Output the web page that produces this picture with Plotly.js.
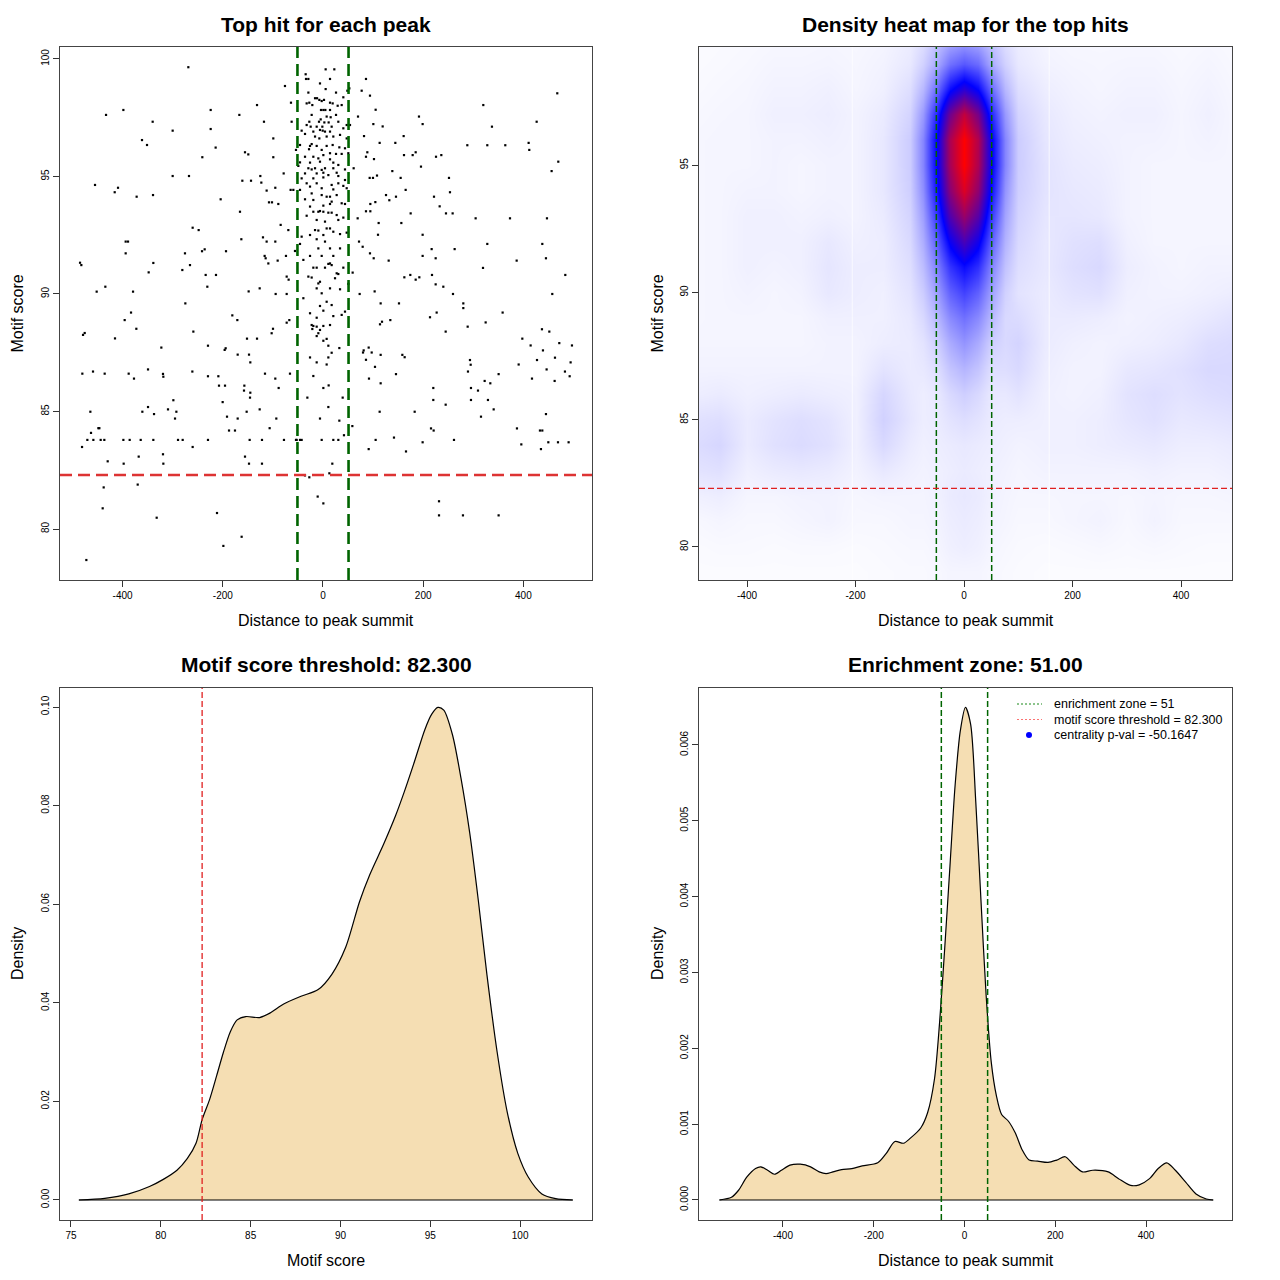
<!DOCTYPE html>
<html>
<head>
<meta charset="utf-8">
<script src="https://cdn.plot.ly/plotly-3.0.1.min.js"></script>
<style>html,body{margin:0;padding:0;background:#fff}#chart{width:1280px;height:1280px}</style>
</head>
<body>
<div id="chart"></div>
<script>
// ---------------- DATA ----------------
const enrichmentZone = 51;
const scoreThreshold = 82.3;
const centralityP = -50.1647;

// Top hit for each peak: [distance to summit, motif score]
const topHits = [
[-268.8,99.65],[-398.5,97.83],[-433.1,97.62],[-224.2,97.83],[-167.0,97.62],[-131.7,98.04],[-340.0,97.33],[-117.8,97.33],[-300.1,96.95],[-224.2,97.02],[-75.9,98.85],[-63.9,98.14],[-361.3,96.55],[-351.3,96.34],[-214.3,96.23],[-99.2,96.62],[-155.7,96.03],[-149.1,95.94],[-240.9,95.82],[-99.2,95.82],[-62.6,97.33],[-300.1,95.02],[-267.5,95.02],[-455.1,94.64],[-409.2,94.52],[-415.8,94.33],[-372.0,94.14],[-339.3,94.21],[-161.0,94.82],[-143.7,94.82],[-125.1,95.02],[-123.1,94.74],[-112.5,94.40],[-95.2,94.52],[-107.8,93.90],[-101.8,93.90],[-89.2,93.83],[-78.5,95.13],[-64.6,94.43],[-59.2,94.43],[-204.3,94.03],[-165.7,93.50],[-260.2,92.82],[-248.2,92.72],[-84.5,92.94],[-69.2,92.72],[-393.9,92.23],[-389.2,92.23],[-163.0,92.33],[-119.8,92.41],[-112.5,92.23],[-95.2,92.23],[-393.9,91.73],[-275.5,91.73],[-241.5,91.82],[-236.2,91.90],[-193.6,91.82],[-485.0,91.33],[-482.4,91.23],[-265.5,91.23],[-280.8,91.02],[-348.0,90.92],[-338.7,91.32],[-234.2,90.81],[-213.6,90.81],[-116.5,91.62],[-114.5,91.52],[-109.1,91.30],[-90.5,91.42],[-73.9,91.62],[-72.5,90.74],[-68.6,90.61],[-451.8,90.10],[-434.5,90.31],[-379.2,90.10],[-230.9,90.31],[-148.4,90.11],[-126.4,90.24],[-94.5,90.00],[-72.5,90.00],[-274.8,89.60],[-383.2,89.21],[-395.9,88.89],[-372.6,88.52],[-475.7,88.34],[-479.0,88.26],[-415.2,88.11],[-258.8,88.40],[-181.0,89.09],[-171.0,88.89],[-151.7,88.10],[-131.7,88.10],[-102.5,88.33],[-99.8,88.52],[-67.2,88.89],[-72.5,88.78],
[-322.7,87.72],[-229.6,87.80],[-196.3,87.62],[-194.3,87.69],[-170.3,87.42],[-147.7,87.42],[-145.1,87.09],[-480.4,86.61],[-459.1,86.70],[-435.8,86.61],[-387.9,86.61],[-377.3,86.40],[-349.3,86.79],[-319.4,86.60],[-318.7,86.48],[-260.8,86.70],[-229.6,86.50],[-208.9,86.50],[-207.6,86.10],[-195.6,86.10],[-157.0,86.10],[-157.7,85.89],[-145.1,85.80],[-145.7,85.59],[-115.8,86.61],[-95.2,86.40],[-88.5,86.00],[-65.9,86.61],[-200.3,85.40],[-191.6,84.78],[-170.3,84.70],[-464.4,84.99],[-360.6,84.99],[-349.3,85.19],[-337.3,84.89],[-309.4,85.09],[-292.7,84.99],[-298.7,85.48],[-295.4,84.70],[-152.4,84.99],[-126.4,85.09],[-93.2,84.70],[-106.5,84.29],[-463.1,84.09],[-470.4,83.79],[-458.4,83.79],[-443.8,83.79],[-436.5,83.79],[-448.4,84.29],[-446.4,84.29],[-398.5,83.79],[-385.9,83.79],[-363.9,83.79],[-338.7,83.79],[-289.4,83.79],[-280.1,83.79],[-229.6,83.79],[-187.6,84.19],[-175.7,84.19],[-146.4,83.79],[-121.8,83.79],[-77.9,83.79],[-53.9,83.79],[-481.0,83.49],[-260.2,83.49],[-429.8,82.88],[-367.9,83.08],[-319.4,83.18],[-318.7,82.78],[-397.9,82.78],[-155.7,83.08],[-147.7,82.78],[-121.8,82.78],[-437.8,81.77],[-369.9,81.89],[-439.8,80.88],[-332.0,80.48],[-211.6,80.68],[-198.9,79.28],[-162.4,79.67],[-472.4,78.68],
[85.8,99.15],[77.2,98.65],[93.8,98.44],[105.1,97.84],[69.9,97.55],[100.5,97.23],[119.1,97.13],[191.6,97.55],[198.9,97.23],[320.0,98.04],[337.3,97.12],[426.5,97.33],[467.7,98.54],[81.9,96.72],[161.0,96.72],[113.1,96.43],[144.4,96.43],[88.5,96.03],[85.8,95.84],[101.8,95.74],[161.7,95.91],[179.0,95.91],[185.0,96.03],[225.6,95.84],[236.2,95.91],[288.1,96.33],[328.0,96.33],[363.9,96.33],[410.5,96.43],[411.8,96.13],[195.6,95.42],[138.4,95.23],[61.2,95.35],[469.7,95.63],[456.4,95.23],[93.2,94.94],[99.8,94.94],[107.8,95.04],[155.0,94.94],[251.5,94.94],[165.0,94.43],[253.5,94.33],[221.6,94.14],[125.8,94.21],[145.7,94.14],[132.4,93.99],[104.5,93.91],[94.5,93.83],[232.9,93.73],[69.2,93.22],[85.8,93.52],[94.5,93.52],[111.1,93.02],[156.4,93.02],[175.0,93.43],[245.5,93.43],[258.8,93.43],[304.7,93.22],[373.3,93.22],[447.1,93.22],[109.8,92.52],[198.9,92.52],[71.9,92.23],[79.2,92.01],[93.8,91.73],[101.2,91.52],[131.1,91.42],[198.9,91.62],[216.9,91.91],[224.9,91.52],[262.8,91.91],[328.0,92.13],[437.8,92.13],[445.1,91.52],[386.6,91.42],[319.4,91.11],[59.2,90.91],[162.4,90.71],[174.3,90.81],[185.0,90.61],[192.3,90.71],[217.6,90.81],[224.9,90.41],[240.2,90.31],[483.7,90.81],[73.2,90.00],[103.1,90.11],[115.1,89.60],[151.7,89.60],[259.5,90.00],[280.1,89.60],[280.1,89.40],[358.6,89.21],[457.7,90.00],[113.8,88.71],[117.8,88.82],[134.4,88.89],[213.6,89.01],[226.9,89.21],[244.9,88.40],[288.8,88.61],[324.7,88.79],[397.9,88.10],[437.1,88.50],[451.8,88.40],
[414.5,87.81],[471.7,87.91],[497.0,87.81],[79.9,87.51],[81.2,87.60],[91.2,87.72],[97.2,87.51],[85.8,87.20],[115.1,87.41],[103.8,86.90],[158.4,87.41],[163.0,87.31],[145.7,86.59],[91.8,86.40],[115.1,86.20],[289.4,86.70],[294.8,86.99],[293.4,87.19],[350.6,86.59],[390.6,87.00],[417.2,86.40],[427.2,87.19],[439.1,87.60],[446.4,86.79],[463.1,87.29],[462.4,86.30],[483.0,86.70],[492.4,86.50],[494.3,87.09],[322.7,86.30],[334.0,86.20],[295.4,86.00],[309.4,85.89],[295.4,85.49],[329.3,85.49],[244.9,85.29],[220.2,86.00],[220.2,85.49],[113.1,84.99],[183.0,84.99],[340.7,85.09],[315.4,84.78],[445.1,84.89],[215.6,84.28],[220.9,84.19],[387.2,84.28],[433.1,84.19],[437.8,84.19],[58.6,84.38],[105.1,83.79],[141.7,83.89],[198.9,83.69],[261.5,83.79],[395.9,83.60],[449.8,83.69],[469.1,83.69],[490.3,83.69],[91.2,83.40],[165.7,83.30],[435.1,83.40],[231.6,81.18],[231.6,80.58],[279.4,80.58],[350.6,80.58],
[5.3,99.56],[22.6,99.56],[-34.6,99.35],[-29.2,99.15],[-33.9,99.15],[14.0,99.15],[-6.0,98.96],[52.6,98.75],[48.6,98.65],[5.3,98.72],[-29.2,98.57],[26.0,98.57],[40.6,98.37],[-15.9,98.33],[-11.9,98.33],[-7.3,98.26],[2.0,98.26],[-2.6,98.21],[14.0,98.14],[19.3,98.11],[29.3,98.01],[37.3,98.04],[-21.3,98.04],[-32.6,98.11],[-27.3,98.14],[4.7,97.83],[-4.0,97.83],[0.7,97.83],[14.0,97.83],[26.0,97.62],[-22.6,97.62],[7.3,97.55],[-4.6,97.43],[15.3,97.52],[-8.0,97.33],[2.7,97.30],[11.3,97.30],[-27.3,97.33],[30.6,97.33],[-12.6,97.12],[-24.6,97.12],[-1.3,97.12],[17.3,97.12],[40.6,97.05],[47.3,97.19],[53.9,97.19],[-32.6,97.19],[-6.0,96.98],[-0.6,96.95],[4.0,96.91],[-19.3,96.91],[14.0,96.91],[-42.6,96.95],[-35.9,96.81],[-15.9,96.70],[-7.3,96.62],[7.3,96.70],[20.6,96.70],[34.0,96.77],[47.3,96.62],[-45.9,96.34],[-53.9,96.13],[-25.9,96.30],[-22.6,96.38],[-12.6,96.30],[7.3,96.30],[19.3,96.34],[32.6,96.24],[43.9,96.20],[-27.9,96.16],[-2.6,96.13],[14.0,95.99],[26.0,95.96],[37.3,95.96],[50.6,95.99],[-35.9,95.84],[-19.3,95.84],[0.7,95.91],[-9.3,95.77],[14.0,95.73],[-45.9,95.60],[-25.9,95.59],[-6.0,95.63],[20.6,95.59],[30.6,95.49],[-29.2,95.35],[-22.6,95.30],[-15.9,95.35],[-2.6,95.28],[4.0,95.35],[20.6,95.35],[43.9,95.30],[-49.2,95.45],[-35.9,95.13],[-12.6,95.13],[0.7,95.16],[27.3,95.16],[-42.6,94.92],[-19.3,94.92],[0.7,94.96],[10.7,95.06],[30.6,95.02],[43.9,94.85],[-32.6,94.71],[-12.6,94.71],[17.3,94.64],[30.6,94.71],[40.6,94.60],[-25.9,94.57],[-2.6,94.50],[20.6,94.45],[47.3,94.50],[-45.9,94.43],[-22.6,94.28],[-2.6,94.21],[7.3,94.14],[14.0,94.14],[27.3,94.21],[-19.3,94.00],[-35.9,94.03],[17.3,93.93],[37.3,93.86],[43.9,93.83],[0.7,93.76],[14.0,93.83],[-25.9,93.72],[-19.3,93.50],[-9.3,93.50],[-6.0,93.53],[0.7,93.50],[10.7,93.46],[17.3,93.46],[27.3,93.36],[-32.6,93.33],[40.6,93.25],[30.6,93.15],[-12.6,93.15],[4.0,93.08],[7.3,92.79],[14.0,92.79],[-15.9,92.72],[-9.3,92.70],[20.6,92.65],[-25.9,92.51],[0.7,92.51],[34.0,92.55],[47.3,92.61],[-42.6,92.44],[-12.6,92.33],[4.0,92.23],[-45.9,92.13],[-9.3,91.94],[14.0,91.94],[34.0,91.94],[-55.9,91.83],[-2.6,91.62],[-25.9,91.62],[-39.2,91.45],[20.6,91.62],[14.0,91.30],[10.7,91.28],[17.3,91.23],[-19.3,91.12],[-12.6,91.12],[4.0,91.12],[40.6,91.12],[27.3,90.88],[30.6,90.85],[-29.2,90.74],[-22.6,90.70],[24.0,90.67],[-6.0,90.52],[-9.3,90.45],[50.6,90.43],[-12.6,90.24],[14.0,90.24],[34.0,90.20],[-2.6,90.03],[-39.2,89.82],[7.3,89.67],[17.3,89.53],[-6.0,89.49],[0.7,89.29],[43.9,89.25],[37.3,89.11],[-25.9,89.18],[-12.6,88.99],[20.6,89.06],[-22.6,88.68],[-19.3,88.64],[14.0,88.68],[-6.0,88.47],[-9.3,88.33],[-12.6,88.21],
[-12.6,88.61],[0.7,88.64],[-21.3,88.51],[7.3,88.09],[10.7,87.80],[0.7,88.01],[-25.9,87.30],[-12.6,87.09],[10.7,87.30],[7.3,87.00],[32.6,87.70],[17.3,87.50],[-19.3,86.51],[0.7,86.00],[11.3,86.11],[-31.2,85.59],[39.3,85.59],[10.7,85.19],[-6.0,84.70],[32.6,84.61],[41.9,83.99],[20.6,83.79],[30.6,83.79],[-2.6,83.79],[-45.9,83.79],[-52.5,83.79],[-42.6,83.79],[18.6,82.78],[12.7,82.37],[-35.9,82.28],[-27.3,82.20],[-10.6,81.38],[0.7,81.09]
];

// Density heat map grid (estimated relative density)
const heatX = [-490,-450,-400,-350,-300,-250,-200,-150,-100,-75,-50,-25,0,25,50,75,100,150,200,250,300,350,400,450,490];
const heatY = [79,80,81,82,83,84,85,86,87,88,89,90,91,92,93,94,95,96,97,98,99,100];
const heatZ = [
[.008,.008,.008,.008,.008,.008,.008,.01,.012,.012,.015,.02,.02,.02,.015,.012,.01,.008,.008,.008,.008,.008,.008,.008,.008],
[.01,.012,.012,.01,.012,.012,.01,.012,.015,.015,.02,.03,.035,.03,.02,.015,.012,.01,.012,.015,.012,.015,.012,.01,.01],
[.015,.02,.015,.015,.02,.025,.015,.015,.02,.02,.025,.035,.04,.035,.025,.02,.015,.015,.02,.025,.015,.025,.015,.015,.015],
[.03,.035,.02,.02,.025,.025,.018,.022,.022,.022,.028,.04,.045,.04,.028,.022,.018,.018,.02,.02,.018,.022,.018,.018,.02],
[.055,.06,.03,.04,.045,.04,.025,.045,.03,.025,.03,.035,.04,.035,.03,.025,.02,.025,.025,.025,.025,.03,.025,.025,.03],
[.07,.08,.04,.06,.07,.06,.03,.075,.04,.03,.035,.04,.045,.04,.035,.03,.025,.03,.03,.035,.04,.045,.035,.035,.04],
[.06,.065,.04,.055,.065,.055,.03,.09,.05,.035,.04,.055,.065,.055,.04,.035,.035,.03,.03,.035,.05,.06,.045,.05,.055],
[.035,.04,.03,.035,.04,.035,.03,.08,.045,.035,.045,.075,.095,.075,.045,.045,.055,.03,.025,.03,.055,.065,.055,.065,.07],
[.025,.025,.025,.025,.025,.025,.025,.055,.04,.045,.065,.115,.145,.115,.065,.065,.075,.035,.025,.025,.045,.05,.06,.075,.075],
[.02,.02,.02,.02,.02,.025,.025,.035,.04,.055,.095,.165,.21,.165,.095,.075,.085,.04,.03,.025,.03,.035,.045,.065,.07],
[.018,.02,.02,.02,.02,.03,.03,.03,.045,.075,.14,.23,.28,.23,.14,.075,.07,.04,.04,.035,.025,.03,.035,.045,.055],
[.018,.02,.025,.02,.025,.045,.035,.03,.055,.1,.19,.31,.37,.31,.19,.09,.055,.04,.055,.06,.03,.025,.025,.03,.035],
[.018,.02,.03,.025,.03,.05,.035,.035,.065,.13,.25,.40,.48,.41,.25,.12,.065,.045,.065,.075,.035,.025,.02,.025,.025],
[.018,.02,.03,.03,.03,.045,.03,.035,.075,.16,.32,.52,.64,.53,.32,.15,.075,.045,.06,.065,.03,.02,.02,.02,.02],
[.018,.02,.03,.03,.025,.03,.025,.04,.085,.19,.40,.66,.80,.67,.40,.18,.085,.05,.05,.045,.025,.02,.02,.02,.02],
[.018,.02,.025,.025,.02,.025,.025,.045,.095,.22,.47,.77,.93,.78,.48,.21,.095,.055,.045,.04,.025,.02,.02,.02,.02],
[.018,.02,.02,.025,.02,.025,.025,.045,.10,.24,.51,.83,1.0,.84,.52,.24,.10,.055,.04,.035,.025,.02,.02,.02,.02],
[.018,.02,.02,.025,.025,.03,.025,.045,.10,.24,.51,.84,1.0,.85,.52,.24,.10,.05,.035,.03,.025,.025,.02,.025,.02],
[.015,.018,.02,.03,.03,.035,.025,.04,.085,.2,.43,.72,.88,.73,.44,.2,.085,.045,.03,.025,.03,.03,.02,.03,.02],
[.012,.015,.018,.025,.025,.03,.02,.03,.065,.14,.29,.48,.58,.49,.30,.14,.065,.035,.025,.02,.025,.025,.018,.025,.018],
[.01,.012,.015,.02,.02,.022,.018,.025,.045,.09,.17,.28,.33,.29,.17,.09,.045,.025,.02,.018,.02,.02,.015,.02,.015],
[.008,.01,.012,.015,.015,.018,.015,.02,.035,.06,.11,.15,.17,.15,.11,.06,.035,.02,.015,.015,.015,.015,.012,.015,.012]
];

// Motif score density curve
const scoreDensX = [75.44,76.88,78.22,79.37,80.14,80.90,81.48,81.96,82.30,82.72,83.11,83.49,83.87,84.25,84.73,85.50,86.07,86.84,87.80,88.76,89.52,90.29,91.06,91.63,92.40,93.07,93.55,94.12,94.70,95.08,95.42,95.75,96.23,96.71,97.19,97.67,98.15,98.72,99.29,99.87,100.45,101.21,101.98,102.93];
const scoreDensY = [0,0.00034,0.00123,0.00274,0.00418,0.00603,0.00843,0.01151,0.01631,0.02042,0.02522,0.03002,0.03413,0.03653,0.03721,0.03701,0.0379,0.03975,0.04132,0.04269,0.04578,0.05126,0.06051,0.06599,0.07216,0.07799,0.08278,0.08895,0.09546,0.09855,0.09992,0.09937,0.09443,0.08553,0.07456,0.06085,0.04578,0.03002,0.01768,0.00946,0.00466,0.00123,0.00027,0];

// Distance density curve
const distDensX = [-540.0,-513.5,-498.3,-479.4,-460.4,-449.1,-433.9,-418.7,-403.5,-384.6,-361.9,-339.1,-320.1,-305.0,-289.8,-270.8,-248.1,-225.4,-191.2,-172.3,-153.3,-134.4,-119.2,-96.4,-81.3,-66.1,-54.7,-43.4,-32.0,-20.6,-9.2,2.1,13.5,24.9,36.3,47.6,59.0,70.4,81.8,96.9,112.1,127.3,142.4,161.4,184.1,203.1,222.0,241.0,260.0,282.7,316.8,339.6,366.1,385.1,407.8,426.8,445.7,464.7,487.4,510.2,532.9,548.1];
const distDensY = [0,0.0000356,0.000125,0.000303,0.000414,0.000437,0.000392,0.000339,0.000392,0.000459,0.000472,0.000437,0.00037,0.000347,0.00037,0.000401,0.000414,0.00045,0.00049,0.000615,0.000771,0.000748,0.000815,0.000949,0.00115,0.001595,0.002352,0.003332,0.004402,0.005471,0.006184,0.006495,0.006273,0.005248,0.003956,0.002709,0.001818,0.001372,0.001127,0.001038,0.000882,0.000659,0.000526,0.000512,0.000495,0.000526,0.00057,0.000459,0.00037,0.000392,0.00037,0.000281,0.000192,0.0002,0.000281,0.000414,0.00049,0.000392,0.000236,0.00008,0.0000134,0];

// Tick labels (ASCII hyphen as in the original)
const distTicks = [-400,-200,0,200,400];
const distTickText = ['-400','-200','0','200','400'];
const legendLabels = ['enrichment zone = ' + enrichmentZone,
                      'motif score threshold = ' + scoreThreshold.toFixed(3),
                      'centrality p-val = ' + centralityP];

// ---------------- PLOT ----------------
const FONT = 'Liberation Sans, Arial, Helvetica, sans-serif';
const GREEN = '#006400';
const W = 1280, H = 1280;
const px = v => v / W;
const py = v => 1 - v / H;

const traces = [
  {type:'scatter', mode:'markers', x: topHits.map(p=>p[0]), y: topHits.map(p=>p[1]),
   xaxis:'x', yaxis:'y', marker:{symbol:'square', size:2.2, color:'#000'}, showlegend:false},
  {type:'heatmap', x: heatX, y: heatY, z: heatZ, xaxis:'x2', yaxis:'y2', zsmooth:'best',
   zmin:0, zmax:1, colorscale:[[0,'#ffffff'],[0.5,'#0000ff'],[1,'#ff0000']], showscale:false, showlegend:false},
  {type:'scatter', mode:'lines', x: scoreDensX, y: scoreDensY,
   xaxis:'x3', yaxis:'y3', fill:'tozeroy', fillcolor:'#F5DEB3', line:{color:'#000', width:1.2, shape:'spline', smoothing:0.8}, showlegend:false},
  {type:'scatter', mode:'lines', x: distDensX, y: distDensY,
   xaxis:'x4', yaxis:'y4', fill:'tozeroy', fillcolor:'#F5DEB3', line:{color:'#000', width:1.2, shape:'spline', smoothing:0.8}, showlegend:false}
];

function ax(extra){
  return Object.assign({
    showgrid:false, zeroline:false, showline:true, mirror:true, linecolor:'#444', linewidth:1,
    ticks:'outside', ticklen:6, tickwidth:1, tickcolor:'#333',
    tickfont:{family:FONT, size:10, color:'#000'}, fixedrange:true
  }, extra);
}
const topDom = [1-580/H, 1-47/H];
const botDom = [1-1220/H, 1-688/H];
const leftDom = [60/W, 592/W];
const rightDom = [699/W, 1232/W];

function ann(text, x, y, size, extra){
  return Object.assign({text:text, xref:'paper', yref:'paper', x:px(x), y:py(y), xanchor:'center', yanchor:'middle',
    showarrow:false, font:{size:size, family:FONT, color:'#000'}}, extra||{});
}

const layout = {
  width:W, height:H, margin:{l:0,r:0,t:0,b:0},
  paper_bgcolor:'#fff', plot_bgcolor:'#fff',
  font:{family:FONT, color:'#000'},
  showlegend:false,
  xaxis: ax({domain:leftDom, anchor:'y', range:[-525,537], tickvals:distTicks, ticktext:distTickText}),
  yaxis: ax({domain:topDom, anchor:'x', range:[77.83,100.51], tickvals:[80,85,90,95,100], tickangle:-90}),
  xaxis2: ax({domain:rightDom, anchor:'y2', range:[-488.5,494], tickvals:distTicks, ticktext:distTickText}),
  yaxis2: ax({domain:topDom, anchor:'x2', range:[78.70,99.65], tickvals:[80,85,90,95], tickangle:-90}),
  xaxis3: ax({domain:leftDom, anchor:'y3', range:[74.39,104.0], tickvals:[75,80,85,90,95,100]}),
  yaxis3: ax({domain:botDom, anchor:'x3', range:[-0.00406,0.10386], tickvals:[0,0.02,0.04,0.06,0.08,0.10],
              ticktext:['0.00','0.02','0.04','0.06','0.08','0.10'], tickangle:-90}),
  xaxis4: ax({domain:rightDom, anchor:'y4', range:[-585,589.5], tickvals:distTicks, ticktext:distTickText}),
  yaxis4: ax({domain:botDom, anchor:'x4', range:[-0.000264,0.00675], tickvals:[0,0.001,0.002,0.003,0.004,0.005,0.006],
              ticktext:['0.000','0.001','0.002','0.003','0.004','0.005','0.006'], tickangle:-90}),
  shapes:[
    // top-left
    {type:'line', xref:'x', yref:'y domain', x0:-enrichmentZone, x1:-enrichmentZone, y0:0, y1:1, line:{color:GREEN, width:2.6, dash:'12px,6px'}},
    {type:'line', xref:'x', yref:'y domain', x0:enrichmentZone, x1:enrichmentZone, y0:0, y1:1, line:{color:GREEN, width:2.6, dash:'12px,6px'}},
    {type:'line', xref:'x domain', yref:'y', x0:0, x1:1, y0:scoreThreshold, y1:scoreThreshold, line:{color:'#DD3333', width:2.6, dash:'12px,6px'}},
    // top-right
    {type:'line', xref:'x2', yref:'y2 domain', x0:-206, x1:-206, y0:0, y1:1, line:{color:'rgba(255,255,255,0.7)', width:1}},
    {type:'line', xref:'x2', yref:'y2 domain', x0:157, x1:157, y0:0, y1:1, line:{color:'rgba(255,255,255,0.7)', width:1}},
    {type:'line', xref:'x2', yref:'y2 domain', x0:-enrichmentZone, x1:-enrichmentZone, y0:0, y1:1, line:{color:GREEN, width:1.5, dash:'6px,3px'}},
    {type:'line', xref:'x2', yref:'y2 domain', x0:enrichmentZone, x1:enrichmentZone, y0:0, y1:1, line:{color:GREEN, width:1.5, dash:'6px,3px'}},
    {type:'line', xref:'x2 domain', yref:'y2', x0:0, x1:1, y0:scoreThreshold, y1:scoreThreshold, line:{color:'#E02020', width:1.3, dash:'6px,3px'}},
    // bottom-left
    {type:'line', xref:'x3', yref:'y3', x0:scoreDensX[0], x1:scoreDensX[scoreDensX.length-1], y0:0, y1:0, line:{color:'#000', width:1.2}},
    {type:'line', xref:'x3', yref:'y3 domain', x0:scoreThreshold, x1:scoreThreshold, y0:0, y1:1, line:{color:'#E02020', width:1.3, dash:'6px,3px'}},
    // bottom-right
    {type:'line', xref:'x4', yref:'y4', x0:distDensX[0], x1:distDensX[distDensX.length-1], y0:0, y1:0, line:{color:'#000', width:1.2}},
    {type:'line', xref:'x4', yref:'y4 domain', x0:-enrichmentZone, x1:-enrichmentZone, y0:0, y1:1, line:{color:GREEN, width:1.5, dash:'6px,3px'}},
    {type:'line', xref:'x4', yref:'y4 domain', x0:enrichmentZone, x1:enrichmentZone, y0:0, y1:1, line:{color:GREEN, width:1.5, dash:'6px,3px'}},
    // legend keys (bottom-right)
    {type:'line', xref:'paper', yref:'paper', x0:px(1017), x1:px(1042), y0:py(704), y1:py(704), line:{color:'#1a8a1a', width:1.2, dash:'2px,2px'}},
    {type:'line', xref:'paper', yref:'paper', x0:px(1017), x1:px(1042), y0:py(719.5), y1:py(719.5), line:{color:'rgba(250,90,90,0.85)', width:1.2, dash:'2px,2px'}},
    {type:'circle', xref:'paper', yref:'paper', x0:px(1026), x1:px(1032), y0:py(738), y1:py(732), fillcolor:'#0000ff', line:{color:'#0000ff', width:0}}
  ],
  annotations:[
    ann('<b>Top hit for each peak</b>', 326, 24, 21),
    ann('<b>Density heat map for the top hits</b>', 965.5, 24, 21),
    ann('<b>Motif score threshold: ' + scoreThreshold.toFixed(3) + '</b>', 326, 664, 21),
    ann('<b>Enrichment zone: ' + enrichmentZone.toFixed(2) + '</b>', 965.5, 664, 21),
    ann('Distance to peak summit', 326, 620, 16),
    ann('Distance to peak summit', 965.5, 620, 16),
    ann('Motif score', 326, 1260, 16),
    ann('Distance to peak summit', 965.5, 1260, 16),
    ann('Motif score', 17, 313.5, 16, {textangle:-90}),
    ann('Motif score', 657, 313.5, 16, {textangle:-90}),
    ann('Density', 17, 954, 16, {textangle:-90}),
    ann('Density', 657, 954, 16, {textangle:-90}),
    ann(legendLabels[0], 1052, 704, 12.5, {xanchor:'left'}),
    ann(legendLabels[1], 1052, 719.5, 12.5, {xanchor:'left'}),
    ann(legendLabels[2], 1052, 735, 12.5, {xanchor:'left'})
  ]
};

Plotly.newPlot('chart', traces, layout, {staticPlot:true, displayModeBar:false});
</script>
</body>
</html>
